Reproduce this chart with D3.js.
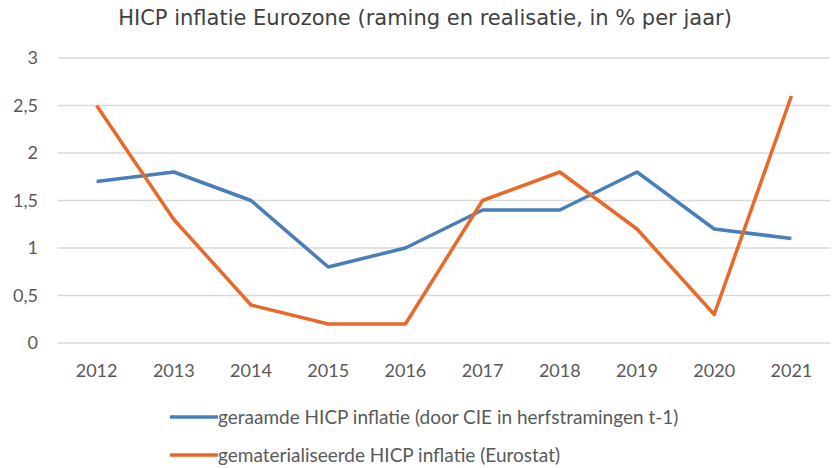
<!DOCTYPE html>
<html>
<head>
<meta charset="utf-8">
<script src="https://cdn.jsdelivr.net/npm/d3@7"></script>
<style>
  body { margin: 0; background: #fff; }
  text { font-family: "Lato", "Open Sans", sans-serif; }
</style>
</head>
<body>
<div id="chart"></div>
<script>
const years = ["2012", "2013", "2014", "2015", "2016", "2017", "2018", "2019", "2020", "2021"]
const geraamd = [1.7, 1.8, 1.5, 0.8, 1.0, 1.4, 1.4, 1.8, 1.2, 1.1]
const gematerialiseerd = [2.5, 1.3, 0.4, 0.2, 0.2, 1.5, 1.8, 1.2, 0.3, 2.6]
const yTicks = [0, 0.5, 1, 1.5, 2, 2.5, 3]

const series = [
    { name: "geraamde HICP inflatie (door CIE in herfstramingen t-1)", values: geraamd, color: "#4a7ebb" },
    { name: "gematerialiseerde HICP inflatie (Eurostat)", values: gematerialiseerd, color: "#e8692a" }
]

const width = 832, height = 468
const margin = { top: 58, right: 2, bottom: 125, left: 58 }

const svg = d3.select("#chart").append("svg")
    .attr("width", width)
    .attr("height", height)

const x = d3.scalePoint()
    .domain(years)
    .range([margin.left, width - margin.right])
    .padding(0.5)

const y = d3.scaleLinear()
    .domain([0, 3])
    .range([height - margin.bottom, margin.top])

// titel
svg.append("text")
    .attr("x", 425)
    .attr("y", 25)
    .attr("text-anchor", "middle")
    .attr("fill", "#404040")
    .attr("font-size", "21px")
    .style("font-family", "'DejaVu Sans', Verdana, sans-serif")
    .text("HICP inflatie Eurozone (raming en realisatie, in % per jaar)")

// rasterlijnen
svg.append("g")
    .selectAll("line")
    .data(yTicks)
    .join("line")
    .attr("x1", margin.left)
    .attr("x2", width - margin.right)
    .attr("y1", d => y(d))
    .attr("y2", d => y(d))
    .attr("stroke", "#d9d9d9")
    .attr("stroke-width", 1.3)

// y labels
svg.append("g")
    .selectAll("text")
    .data(yTicks)
    .join("text")
    .attr("x", 38)
    .attr("y", d => y(d))
    .attr("dy", "0.35em")
    .attr("text-anchor", "end")
    .attr("fill", "#595959")
    .attr("font-size", "18px")
    .text(d => String(d).replace(".", ","))

// x labels
svg.append("g")
    .selectAll("text")
    .data(years)
    .join("text")
    .attr("x", d => x(d))
    .attr("y", 377)
    .attr("text-anchor", "middle")
    .attr("fill", "#595959")
    .attr("font-size", "18px")
    .text(d => d)

// lijnen
const line = d3.line()
    .x((d, i) => x(years[i]))
    .y(d => y(d))

svg.append("g")
    .selectAll("path")
    .data(series)
    .join("path")
    .attr("d", d => line(d.values))
    .attr("fill", "none")
    .attr("stroke", d => d.color)
    .attr("stroke-width", 3.5)
    .attr("stroke-linejoin", "round")

// legenda
const legend = svg.append("g")
    .selectAll("g")
    .data(series)
    .join("g")
    .attr("transform", (d, i) => `translate(170, ${417 + i * 38})`)

legend.append("line")
    .attr("x1", 0)
    .attr("x2", 48)
    .attr("stroke", d => d.color)
    .attr("stroke-width", 3.5)

legend.append("text")
    .attr("x", 48)
    .attr("dy", "0.35em")
    .attr("fill", "#595959")
    .attr("font-size", "19px")
    .text(d => d.name)
</script>
</body>
</html>
